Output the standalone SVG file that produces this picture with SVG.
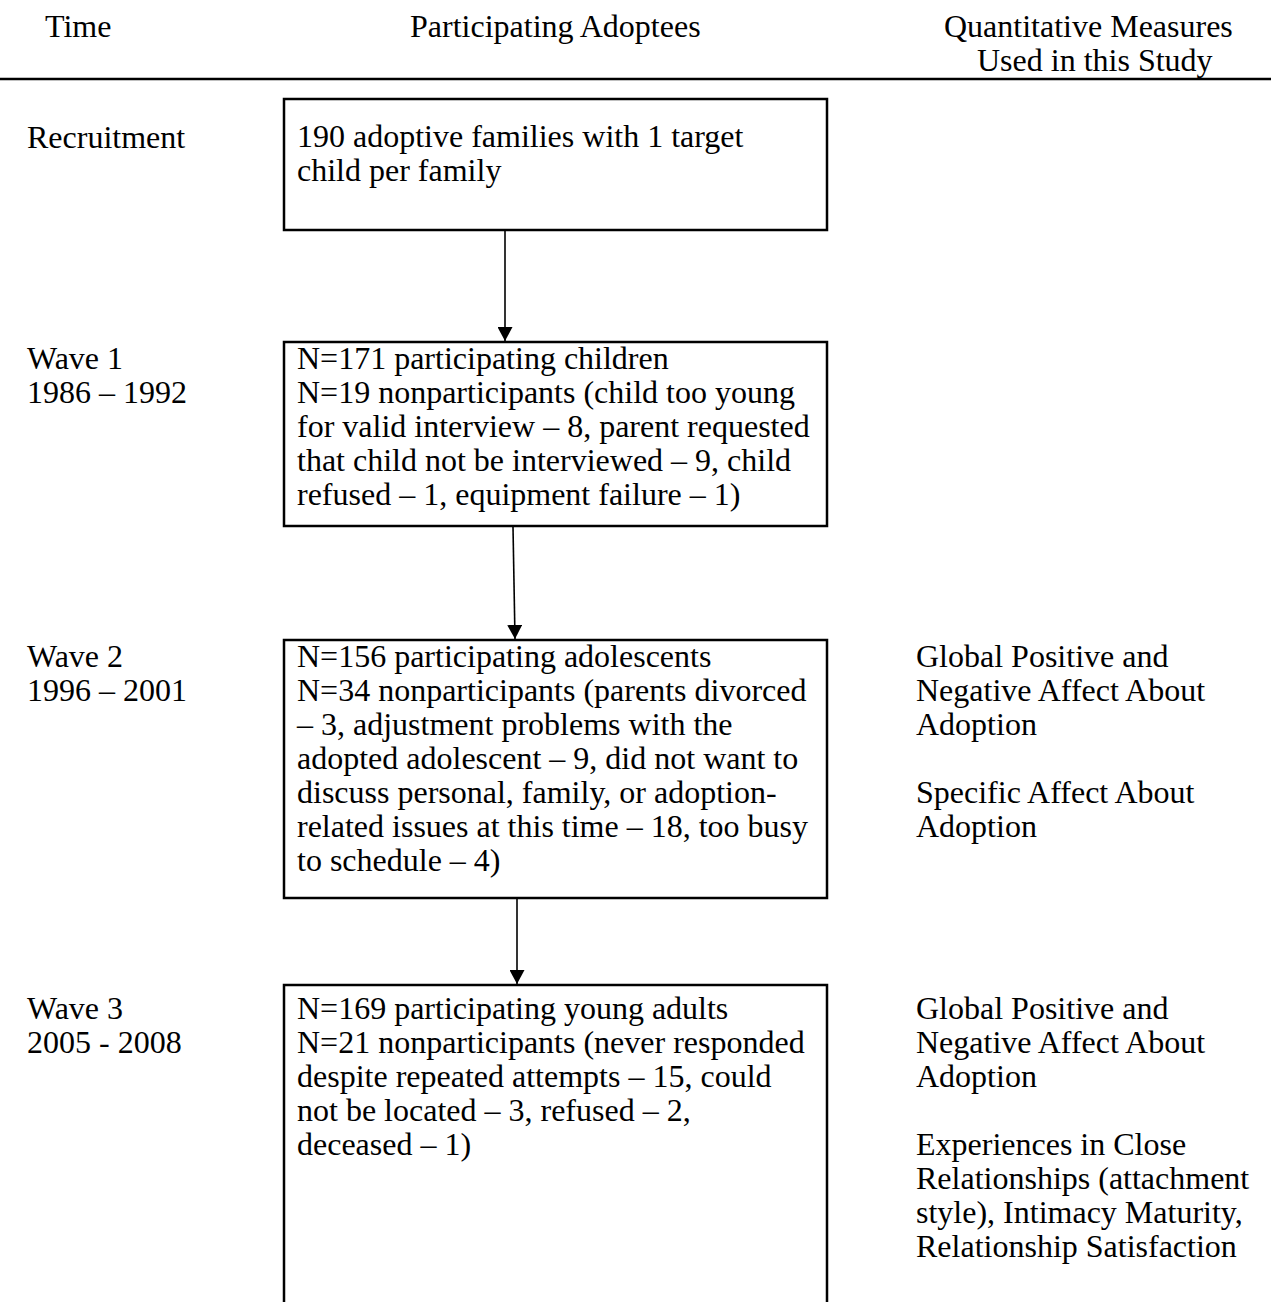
<svg xmlns="http://www.w3.org/2000/svg" width="1271" height="1302" viewBox="0 0 1271 1302">
<defs>
<style>
text{font-family:"Liberation Serif","Times New Roman",serif;font-size:32px;fill:#000}
.box{fill:#fff;stroke:#000;stroke-width:2.5}
.conn{stroke:#000;stroke-width:1.6;fill:none;marker-end:url(#ah)}
</style>
<marker id="ah" viewBox="0 0 14 15" refX="14" refY="7.5" markerWidth="14" markerHeight="15" markerUnits="userSpaceOnUse" orient="auto">
<path d="M0,0 L14,7.5 L0,15 z" fill="#000"/>
</marker>
</defs>
<rect width="1271" height="1302" fill="#fff"/>
<g id="header">
<text x="45" y="37">Time</text>
<text x="410" y="37">Participating Adoptees</text>
<text x="944" y="37">Quantitative Measures</text>
<text x="977" y="71">Used in this Study</text>
<line x1="0" y1="79" x2="1271" y2="79" stroke="#000" stroke-width="2.5"/>
</g>
<g id="time-labels">
<text x="27" y="148">Recruitment</text>
<text x="27" y="369">Wave 1</text>
<text x="27" y="403">1986 – 1992</text>
<text x="27" y="667">Wave 2</text>
<text x="27" y="701">1996 – 2001</text>
<text x="27" y="1019">Wave 3</text>
<text x="27" y="1053">2005 - 2008</text>
</g>
<g id="connectors">
<line class="conn" x1="505" y1="231" x2="505" y2="341"/>
<line class="conn" x1="513" y1="527" x2="515" y2="639"/>
<line class="conn" x1="517" y1="899" x2="517" y2="984"/>
</g>
<g id="node-recruitment">
<rect class="box" x="284" y="99" width="543" height="131"/>
<text x="297" y="147">190 adoptive families with 1 target</text>
<text x="297" y="181">child per family</text>
</g>
<g id="node-wave1">
<rect class="box" x="284" y="342" width="543" height="184"/>
<text x="297" y="369">N=171 participating children</text>
<text x="297" y="403">N=19 nonparticipants (child too young</text>
<text x="297" y="437">for valid interview – 8, parent requested</text>
<text x="297" y="471">that child not be interviewed – 9, child</text>
<text x="297" y="505">refused – 1, equipment failure – 1)</text>
</g>
<g id="node-wave2">
<rect class="box" x="284" y="640" width="543" height="258"/>
<text x="297" y="667">N=156 participating adolescents</text>
<text x="297" y="701">N=34 nonparticipants (parents divorced</text>
<text x="297" y="735">– 3, adjustment problems with the</text>
<text x="297" y="769">adopted adolescent – 9, did not want to</text>
<text x="297" y="803">discuss personal, family, or adoption-</text>
<text x="297" y="837">related issues at this time – 18, too busy</text>
<text x="297" y="871">to schedule – 4)</text>
</g>
<g id="node-wave3">
<path class="box" d="M284,1304 L284,985 L827,985 L827,1304"/>
<text x="297" y="1019">N=169 participating young adults</text>
<text x="297" y="1053">N=21 nonparticipants (never responded</text>
<text x="297" y="1087">despite repeated attempts – 15, could</text>
<text x="297" y="1121">not be located – 3, refused – 2,</text>
<text x="297" y="1155">deceased – 1)</text>
</g>
<g id="measures-wave2">
<text x="916" y="667">Global Positive and</text>
<text x="916" y="701">Negative Affect About</text>
<text x="916" y="735">Adoption</text>
<text x="916" y="803">Specific Affect About</text>
<text x="916" y="837">Adoption</text>
</g>
<g id="measures-wave3">
<text x="916" y="1019">Global Positive and</text>
<text x="916" y="1053">Negative Affect About</text>
<text x="916" y="1087">Adoption</text>
<text x="916" y="1155">Experiences in Close</text>
<text x="916" y="1189">Relationships (attachment</text>
<text x="916" y="1223">style), Intimacy Maturity,</text>
<text x="916" y="1257">Relationship Satisfaction</text>
</g>
</svg>
